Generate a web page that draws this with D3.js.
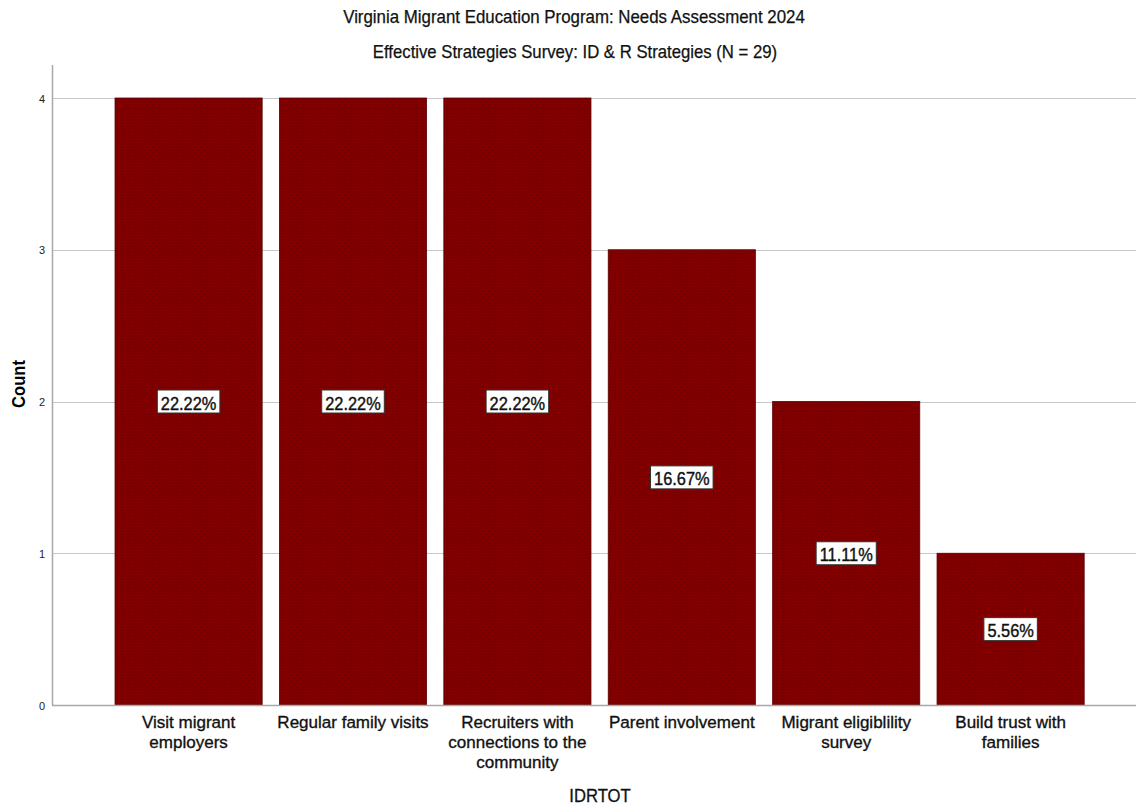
<!DOCTYPE html>
<html>
<head>
<meta charset="utf-8">
<script src="https://cdn.jsdelivr.net/npm/d3@7"></script>
<style>
  html, body { margin: 0; padding: 0; background: #fff; }
  svg { display: block; font-family: "Liberation Sans", Arial, sans-serif; }
</style>
</head>
<body>
<svg id="chart" width="1136" height="807"></svg>
<script>
// Survey responses: ID & R strategies
const categories = [
  ["Visit migrant", "employers"],
  ["Regular family visits"],
  ["Recruiters with", "connections to the", "community"],
  ["Parent involvement"],
  ["Migrant eligiblility", "survey"],
  ["Build trust with", "families"]
];
const counts = [4, 4, 4, 3, 2, 1];
const yTicks = [0, 1, 2, 3, 4];
const titleText = "Virginia Migrant Education Program: Needs Assessment 2024";
const subtitleText = "Effective Strategies Survey: ID & R Strategies (N = 29)";
const xTitle = "IDRTOT";
const yTitle = "Count";

const svg = d3.select("#chart");
const W = 1136;
const axisX = 52, axisTop = 65, baseY = 705;

const total = d3.sum(counts);
const data = counts.map((c, i) => ({ i, lines: categories[i], count: c, pct: c / total * 100 }));

const x = d3.scaleBand()
  .domain(data.map(d => d.i))
  .range([106.8, 1092.4])
  .paddingInner(0.105)
  .paddingOuter(0.05);

const y = d3.scaleLinear().domain([0, 4]).range([baseY, 98]);

// Narrow the glyphs of a text selection to a fraction of their natural width
function squeeze(sel, k) {
  sel.each(function() {
    const w = this.getComputedTextLength();
    d3.select(this).attr("textLength", w * k).attr("lengthAdjust", "spacingAndGlyphs");
  });
  return sel;
}
// Slightly heavier strokes for the label text
function heavy(sel, w) {
  return sel.attr("stroke", "#111").attr("stroke-width", w).attr("fill", "#111");
}

// Fine texture for the bar fill
const defs = svg.append("defs");
const pat = defs.append("pattern")
  .attr("id", "barFill").attr("patternUnits", "userSpaceOnUse")
  .attr("width", 3).attr("height", 3);
pat.append("rect").attr("width", 3).attr("height", 3).attr("fill", "#840000");
pat.append("rect").attr("x", 0).attr("y", 0).attr("width", 1).attr("height", 1).attr("fill", "#6a0000");
pat.append("rect").attr("x", 2).attr("y", 2).attr("width", 1).attr("height", 1).attr("fill", "#700000");

// Titles
const t1 = svg.append("text").attr("x", 574).attr("y", 23).attr("text-anchor", "middle")
  .attr("font-size", 17.7).text(titleText);
heavy(t1, 0.25); squeeze(t1, 0.953);
const t2 = svg.append("text").attr("x", 575).attr("y", 57.5).attr("text-anchor", "middle")
  .attr("font-size", 17.7).text(subtitleText);
heavy(t2, 0.25); squeeze(t2, 0.945);

// Gridlines
svg.append("g").selectAll("line").data(yTicks.filter(t => t > 0)).join("line")
  .attr("x1", axisX).attr("x2", W)
  .attr("y1", d => Math.round(y(d)) + 0.5).attr("y2", d => Math.round(y(d)) + 0.5)
  .attr("stroke", "#c8c8c8").attr("stroke-width", 1.2);

// Bars
svg.append("g").selectAll("rect").data(data).join("rect")
  .attr("x", d => x(d.i)).attr("width", x.bandwidth())
  .attr("y", d => y(d.count)).attr("height", d => y(0) - y(d.count))
  .attr("fill", "url(#barFill)")
  .attr("stroke", "#5a0000").attr("stroke-width", 0.8);

// Axis lines
svg.append("line").attr("x1", axisX + 0.5).attr("x2", axisX + 0.5)
  .attr("y1", axisTop).attr("y2", baseY).attr("stroke", "#a8a8a8").attr("stroke-width", 1.5);
svg.append("line").attr("x1", axisX).attr("x2", W)
  .attr("y1", baseY + 0.5).attr("y2", baseY + 0.5).attr("stroke", "#a8a8a8").attr("stroke-width", 1.5);

// Y tick labels
svg.append("g").selectAll("text").data(yTicks).join("text")
  .attr("x", 45).attr("y", d => y(d) + 4.5)
  .attr("text-anchor", "end").attr("font-size", 11).attr("fill", "#222")
  .text(d => d);

// Y axis title
const yt = svg.append("text")
  .attr("transform", "translate(25,384) rotate(-90)")
  .attr("text-anchor", "middle").attr("font-size", 18).attr("font-weight", "bold")
  .attr("fill", "#000").text(yTitle);
squeeze(yt, 0.92);

// Category labels, one text per line
const lineData = data.flatMap(d => d.lines.map((l, k) => ({ l, k, cx: x(d.i) + x.bandwidth() / 2 })));
const cat = svg.append("g").selectAll("text").data(lineData).join("text")
  .attr("text-anchor", "middle").attr("font-size", 17.2)
  .attr("x", t => t.cx).attr("y", t => 728.3 + t.k * 19.6)
  .text(t => t.l);
heavy(cat, 0.35); squeeze(cat, 0.99);

// X axis title
const xt = svg.append("text").attr("x", 600).attr("y", 801.7).attr("text-anchor", "middle")
  .attr("font-size", 17.7).text(xTitle);
heavy(xt, 0.3); squeeze(xt, 0.94);

// Percentage labels in the middle of each bar
const lab = svg.append("g").selectAll("g").data(data).join("g")
  .attr("transform", d => `translate(${x(d.i) + x.bandwidth() / 2},${y(d.count / 2)})`);
const pt = lab.append("text")
  .attr("text-anchor", "middle").attr("y", 8)
  .attr("font-size", 18)
  .text(d => d.pct.toFixed(2) + "%");
heavy(pt, 0.4); squeeze(pt, 0.91);
lab.each(function() {
  const g = d3.select(this);
  const w = +g.select("text").attr("textLength");
  g.insert("rect", "text")
    .attr("x", -w / 2 - 3.5).attr("y", -11.5)
    .attr("width", w + 7).attr("height", 23)
    .attr("fill", "#fff").attr("stroke", "#333").attr("stroke-width", 1);
});
</script>
</body>
</html>
